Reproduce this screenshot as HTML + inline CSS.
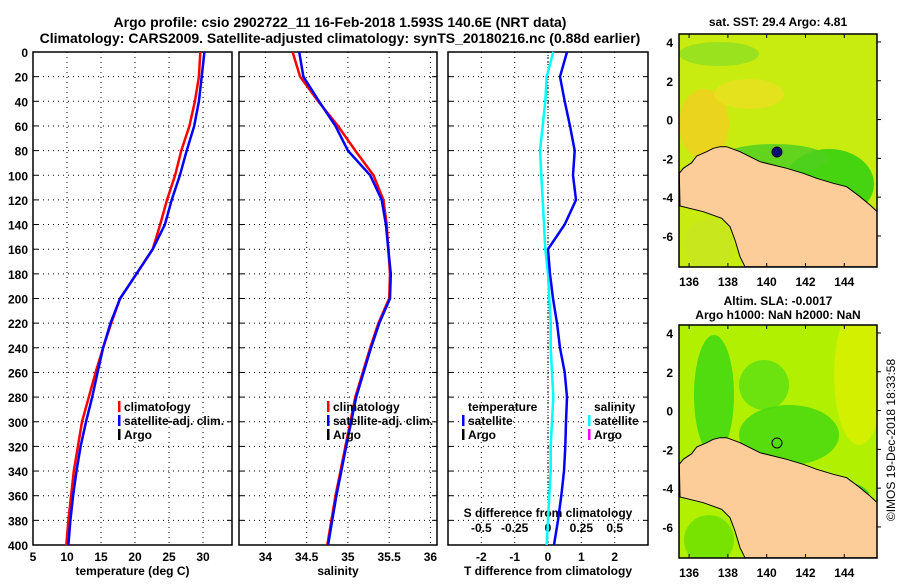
<!DOCTYPE html>
<html><head><meta charset="utf-8"><style>
body{margin:0;background:#fff}
svg text{font-family:"Liberation Sans",sans-serif;font-weight:bold;fill:#000}
</style></head><body>
<svg id="s" width="900" height="580" xmlns="http://www.w3.org/2000/svg">
<defs>
<clipPath id="c1"><rect x="679" y="34" width="198" height="233"/></clipPath>
<clipPath id="c2"><rect x="679" y="325" width="198" height="233"/></clipPath>
</defs>
<text x="340" y="27" font-size="14" text-anchor="middle">Argo profile: csio 2902722_11 16-Feb-2018 1.593S 140.6E (NRT data)</text>
<text x="340" y="43" font-size="14" text-anchor="middle">Climatology: CARS2009. Satellite-adjusted climatology: synTS_20180216.nc (0.88d earlier)</text>
<g id="maps"></g>
<g id="plots"></g>
<text transform="translate(895,440) rotate(-90)" font-size="12" text-anchor="middle" style="font-weight:normal">©IMOS 19-Dec-2018 18:33:58</text>
</svg>
<script>
const depths=[0,20,40,60,80,100,120,140,160,180,200,220,240,260,280,300,320,340,360,380,400];
const tempClim=[29.6,29.4,28.8,28.0,26.8,25.9,24.7,23.7,22.6,20.2,17.8,16.5,15.3,14.2,13.2,12.2,11.6,11.0,10.6,10.2,9.9];
const tempSat=[30.2,29.8,29.4,28.7,27.6,26.6,25.4,24.4,22.6,20.2,17.8,16.4,15.3,14.5,13.7,12.8,12.0,11.4,10.9,10.5,10.2];
const salClim=[34.33,34.42,34.64,34.88,35.09,35.31,35.43,35.47,35.49,35.51,35.50,35.37,35.27,35.18,35.09,35.03,34.97,34.91,34.85,34.80,34.75];
const salSat=[34.41,34.46,34.65,34.85,35.00,35.27,35.41,35.46,35.49,35.52,35.51,35.38,35.28,35.19,35.10,35.04,34.98,34.92,34.86,34.81,34.76];
const tDiff=[0.57,0.36,0.5,0.66,0.8,0.75,0.84,0.5,0.0,0.06,0.15,0.27,0.36,0.5,0.57,0.54,0.52,0.48,0.4,0.3,0.18];
const sDiff=[0.04,-0.01,-0.02,-0.04,-0.06,-0.05,-0.04,-0.03,-0.02,0.0,0.01,0.02,0.02,0.03,0.04,0.03,0.02,0.02,0.01,0.0,-0.01];
const depthTicks=[0,20,40,60,80,100,120,140,160,180,200,220,240,260,280,300,320,340,360,380,400];
const tTicks=[5,10,15,20,25,30];
const sTicks=[34,34.5,35,35.5,36];
const dTicks=[-2,-1,0,1,2];
const sdTicks=[-0.5,-0.25,0,0.25,0.5];
const lonTicks=[136,138,140,142,144];
const latTicks=[4,2,0,-2,-4,-6];
const NS='http://www.w3.org/2000/svg';
const Y0=52,Y1=545;
const yD=d=>Y0+d/400*(Y1-Y0);
function mk(tag,attrs,parent){const e=document.createElementNS(NS,tag);for(const k in attrs)e.setAttribute(k,attrs[k]);parent.appendChild(e);return e;}
const P=document.getElementById('plots');
function panel(x0,x1,d0,d1,ticks,fmt,xlabel,name){
  const g=mk('g',{},P);
  
  
  const sx=v=>x0+(v-d0)/(d1-d0)*(x1-x0);
  depthTicks.forEach(d=>{const y=yD(d);
    if(d>0&&d<400){const l=mk('line',{x1:x0,x2:x1,y1:y,y2:y,stroke:'#000','stroke-dasharray':'1,4','stroke-width':1},g);}
    mk('line',{x1:x0,x2:x0+5,y1:y,y2:y,stroke:'#000'},g);mk('line',{x1:x1-5,x2:x1,y1:y,y2:y,stroke:'#000'},g);});
  ticks.forEach(v=>{const x=sx(v);
    const l=mk('line',{x1:x,x2:x,y1:Y0,y2:Y1,stroke:'#000','stroke-dasharray':'1,4'},g);
    const t=mk('text',{x:x,y:Y1+16,'font-size':12,'text-anchor':'middle'},g);t.textContent=fmt(v);
    });
  const r=mk('rect',{x:x0,y:Y0,width:x1-x0,height:Y1-Y0,fill:'none',stroke:'#000','stroke-width':1.5},g);
  
  const t=mk('text',{x:(x0+x1)/2,y:575,'font-size':12,'text-anchor':'middle'},g);t.textContent=xlabel;
  
  return {g,sx};
}
function line(p,vals,col,w,name){const pts=vals.map((v,i)=>p.sx(v).toFixed(1)+','+yD(depths[i]).toFixed(1)).join(' ');
  const l=mk('polyline',{points:pts,fill:'none',stroke:col,'stroke-width':w},p.g);
  }
const p1=panel(33,232,5,34.26,tTicks,v=>v,'temperature (deg C)','temperature-panel');
depthTicks.forEach(d=>{const t=mk('text',{x:28,y:yD(d)+5,'font-size':12,'text-anchor':'end'},P);t.textContent=d;
  });
line(p1,tempClim,'#f00',2.5,'temp-climatology-line');
line(p1,tempSat,'#00f',2.5,'temp-satellite-line');
const p2=panel(239,437,33.68,36.08,sTicks,v=>v,'salinity','salinity-panel');
line(p2,salClim,'#f00',2.5,'sal-climatology-line');
line(p2,salSat,'#00f',2.5,'sal-satellite-line');
const p3=panel(448,648,-3,3,dTicks,v=>v,'T difference from climatology','difference-panel');
{const l=mk('line',{x1:548,x2:548,y1:Y0,y2:Y1,stroke:'#000','stroke-dasharray':'1,2'},p3.g);}
sdTicks.forEach(v=>{const t=mk('text',{x:p3.sx(v*4),y:532,'font-size':12,'text-anchor':'middle'},p3.g);t.textContent=v;
  });
{const t=mk('text',{x:548,y:517,'font-size':12,'text-anchor':'middle'},p3.g);t.textContent='S difference from climatology';}
line(p3,sDiff.map(v=>v*4),'#0ff',2.5,'sal-diff-line');
line(p3,tDiff,'#00f',2.5,'temp-diff-line');
function legend(x,y,items,name){const g=mk('g',{},P);
  items.forEach((it,i)=>{const yy=y+i*14;
    if(it[1]){mk('rect',{x:x,y:yy-10,width:2.5,height:11,fill:it[1]},g);}
    const t=mk('text',{x:x+6,y:yy,'font-size':12},g);t.textContent=it[0];
    });}
legend(118,411,[['climatology','#f00'],['satellite-adj. clim.','#00f'],['Argo','#000']],'temp-legend');
legend(327,411,[['climatology','#f00'],['satellite-adj. clim.','#00f'],['Argo','#000']],'sal-legend');
legend(462,411,[['temperature',null],['satellite','#00f'],['Argo','#000']],'tdiff-legend');
legend(588,411,[['salinity',null],['satellite','#0ff'],['Argo','#f0f']],'sdiff-legend');
const M=document.getElementById('maps');
const land=[[58,520],[70,505],[95,488],[110,468],[140,455],[160,445],[180,440],[200,440],[240,455],[270,470],[300,485],[340,495],[380,505],[430,520],[470,535],[520,550],[560,560],[600,590],[630,615],[652,635],[652,800],[255,800],[240,770],[225,720],[210,680],[185,655],[130,635],[60,618]];
function map(y0,clip,title1,title2,blobs,bg,filled,name){
  const g=mk('g',{},M);
  const gc=mk('g',{'clip-path':'url(#'+clip+')'},g);
  mk('rect',{x:679,y:y0,width:198,height:233,fill:bg},gc);
  blobs.forEach(b=>mk('ellipse',{cx:679+b[0],cy:y0+b[1],rx:b[2],ry:b[3],fill:b[4],opacity:0.85},gc));
  const pts=land.map(p=>(p[0]/3+660).toFixed(1)+','+(p[1]/3-34+y0).toFixed(1)).join(' ');
  const l=mk('polygon',{points:pts,fill:'#fccc99',stroke:'#000','stroke-width':1},gc);
  mk('rect',{x:679,y:y0,width:198,height:233,fill:'none',stroke:'#000','stroke-width':1.5},g);
  const c=mk('circle',{cx:777,cy:y0+118,r:5,fill:filled?'#00107a':'none',stroke:'#000'},g);
  lonTicks.forEach(v=>{const x=679+(v-135.48)*19.4;const t=mk('text',{x:x,y:y0+252,'font-size':12,'text-anchor':'middle'},g);t.textContent=v;
    mk('line',{x1:x,x2:x,y1:y0,y2:y0+4,stroke:'#000'},g);mk('line',{x1:x,x2:x,y1:y0+229,y2:y0+233,stroke:'#000'},g);});
  latTicks.forEach(v=>{const y=y0+(4.41-v)*19.4;const t=mk('text',{x:673,y:y+5,'font-size':12,'text-anchor':'end'},g);t.textContent=v;
    mk('line',{x1:877,x2:881,y1:y,y2:y,stroke:'#000'},g);});
  [title1,title2].forEach((s,i)=>{if(!s)return;const t=mk('text',{x:778,y:y0-(title2?20:8)+i*14,'font-size':12,'text-anchor':'middle'},g);t.textContent=s;});
}
map(34,'c1','sat. SST: 29.4 Argo: 4.81',null,[[25,90,25,35,'#f0d020'],[70,60,35,15,'#e8e020'],[150,150,45,35,'#30d010'],[95,125,55,15,'#50d020'],[30,210,25,25,'#c8e820'],[40,20,40,12,'#90e020']],'#c8ec10',true,'sst-map');
map(325,'c2','Altim. SLA: -0.0017','Argo h1000: NaN h2000: NaN',[[35,70,20,60,'#40d810'],[85,60,25,25,'#60e010'],[110,110,50,30,'#48d810'],[150,170,40,15,'#30cc10'],[30,215,25,25,'#70e000'],[180,50,25,70,'#d8f000']],'#b0f000',false,'sla-map');
</script>
</body></html>
